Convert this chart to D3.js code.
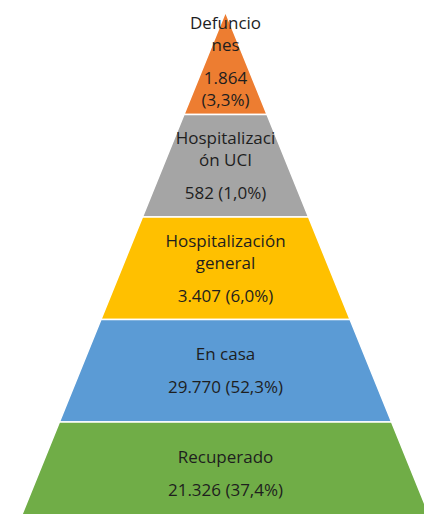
<!DOCTYPE html>
<html>
<head>
<meta charset="utf-8">
<script src="https://cdn.jsdelivr.net/npm/d3@7"></script>
<style>
  body { margin: 0; background: #fff; }
  svg { display: block; }
</style>
</head>
<body>
<div id="vizArea"></div>
<script>
// data, top of the pyramid first
var categories = ["Defunciones", "Hospitalización UCI", "Hospitalización general", "En casa", "Recuperado"];
var labelLines = [["Defuncio", "nes"], ["Hospitalizaci", "ón UCI"], ["Hospitalización", "general"], ["En casa"], ["Recuperado"]];
var counts = [1864, 582, 3407, 29770, 21326];
var percents = [3.3, 1.0, 6.0, 52.3, 37.4];
var colors = ["#ED7D31", "#A5A5A5", "#FFC000", "#5B9BD5", "#70AD47"];

var W = 424, H = 514;
var cx = 225.5, apexY = 12, baseY = 524.5;

var es = d3.formatLocale({decimal: ",", thousands: ".", grouping: [3]});
var fmtCount = es.format(",d");
var fmtPct = es.format(".1f");

var canvas = d3.select("#vizArea")
  .append("svg")
    .attr("width", W)
    .attr("height", H);

// band per category, width grows linearly with depth
var y = d3.scaleBand().domain(categories).range([apexY, baseY]).paddingInner(0);
var halfW = d3.scaleLinear().domain([apexY, baseY]).range([0, 207.6]);

var bands = canvas.selectAll("g.band")
  .data(categories)
  .enter().append("g")
    .attr("class", "band");

bands.append("path")
  .attr("d", function (d) {
    var t = y(d), b = t + y.bandwidth();
    return "M" + (cx - halfW(t)) + "," + t +
      "L" + (cx + halfW(t)) + "," + t +
      "L" + (cx + halfW(b)) + "," + b +
      "L" + (cx - halfW(b)) + "," + b + "Z";
  })
  .attr("fill", function (d, i) { return colors[i]; })
  .attr("stroke", "#fff")
  .attr("stroke-width", 1.5)
  .attr("stroke-linejoin", "miter");

// text
bands.each(function (d, i) {
  var g = d3.select(this);
  var valueText = fmtCount(counts[i]) + " (" + fmtPct(percents[i]) + "%)";
  var top = y(d), mid = top + y.bandwidth() / 2;

  // wrap the value line when it does not fit the narrow band
  var probe = g.append("text").attr("font-family", "'Open Sans', sans-serif")
    .attr("font-size", 17).text(valueText);
  var tooWide = probe.node().getComputedTextLength() > 2 * halfW(top + 75) - 10;
  probe.remove();
  var valueLines = tooWide ? valueText.split(" ") : [valueText];

  var lines = [], steps = [];
  labelLines[i].forEach(function (l, k) { lines.push(l); steps.push(k === 0 ? 0 : 22); });
  valueLines.forEach(function (l, k) { lines.push(l); steps.push(k === 0 ? 33 : 22); });
  var span = d3.sum(steps);
  var yy = mid - span / 2 + 6;

  lines.forEach(function (l, k) {
    yy += (k === 0 ? 0 : steps[k]);
    g.append("text")
      .attr("x", cx)
      .attr("y", yy - (tooWide ? 2 : 0))
      .attr("text-anchor", "middle")
      .attr("font-family", "'Open Sans', sans-serif")
      .attr("font-size", 17)
      .attr("fill", "#1e1e1e")
      .text(l);
  });
});
</script>
</body>
</html>
